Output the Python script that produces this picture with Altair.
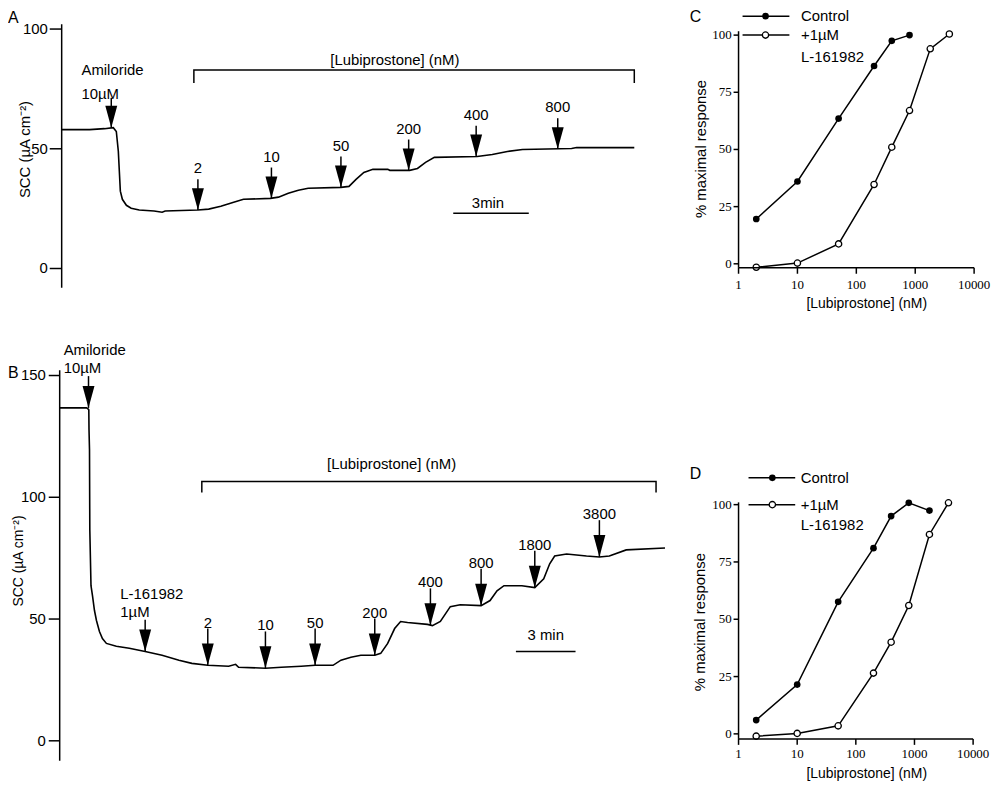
import altair as alt
import pandas as pd

# ---------------- data ----------------
# Panel A: SCC trace (time in min, SCC in uA/cm2)
a_t = [0, 1.11, 1.70, 2.05, 2.17, 2.25, 2.29, 2.33, 2.41, 2.57, 2.76, 3.08, 3.67, 3.99, 4.11,
       5.41, 5.84, 6.32, 6.83, 7.22, 8.29, 8.61, 9.0, 9.4, 9.79, 11.09, 11.41, 11.69, 12.0,
       12.36, 12.95, 13.03, 13.82, 14.13, 14.45, 14.8, 16.5, 17.1, 17.7, 18.3, 20.25, 20.45, 22.74]
a_v = [58.0, 58.0, 58.4, 58.8, 57.2, 48.9, 40.6, 32.3, 28.9, 26.4, 25.2, 24.4, 24.0, 23.5, 24.0,
       24.4, 24.8, 26.0, 27.7, 28.9, 29.3, 29.8, 31.4, 32.7, 33.5, 33.9, 34.3, 37.2, 40.1,
       41.4, 41.4, 41.0, 41.0, 41.8, 44.3, 46.4, 46.8, 47.6, 48.9, 49.7, 50.1, 50.5, 50.5]
a_ticks = [0, 50, 100]
a_dose = ["2", "10", "50", "200", "400", "800"]
a_dose_t = [5.41, 8.33, 11.09, 13.78, 16.46, 19.70]
a_dose_v = [24.4, 29.3, 33.9, 41.0, 46.8, 49.9]
a_drug = [("Amiloride", "10µM", 1.97, 58.8)]
a_bracket = (5.25, 22.74, 82.9, 77.5, 13.23, 87.1)   # start, end, level, tick end, label t, label v
a_bar = (15.55, 18.55, 23.1, 16.93, 27.3, "3min")

# Panel B
b_t = [0, 1.35, 1.425, 1.465, 1.475, 1.5, 1.515, 1.575, 1.65, 1.75, 1.85, 2.0, 2.15, 2.35, 2.85,
       3.5, 4.3, 5.15, 6.0, 6.65, 7.45, 8.5, 8.85, 9.0, 10.35, 11.15, 12.15, 12.85, 13.75, 14.15,
       14.65, 15.15, 15.85, 16.15, 16.5, 16.85, 17.15, 17.5, 18.5, 18.75, 19.15, 19.65, 20.15,
       21.2, 21.65, 22.0, 22.35, 23.25, 23.9, 24.35, 24.65, 24.9, 25.5, 26.5, 27.15, 27.65, 28.5, 30.45]
b_v = [136.7, 136.7, 136.3, 135.9, 127.8, 119.6, 86.9, 63.7, 59.6, 53.5, 49.4, 44.9, 42.0, 40.0,
       38.8, 38.0, 36.7, 35.1, 33.1, 31.8, 31.0, 30.6, 31.4, 30.2, 29.8, 30.2, 30.6, 31.0, 31.0,
       33.1, 34.3, 35.1, 35.1, 35.9, 40.0, 46.1, 49.0, 48.6, 47.8, 47.3, 49.0, 55.1, 55.9, 55.5,
       57.6, 61.6, 63.7, 63.7, 62.9, 66.5, 72.7, 75.9, 76.7, 75.9, 75.5, 75.9, 78.4, 79.2]
b_ticks = [0, 50, 100, 150]
b_dose = ["2", "10", "50", "200", "400", "800", "1800", "3800"]
b_dose_t = [7.45, 10.35, 12.85, 15.85, 18.65, 21.2, 23.9, 27.15]
b_dose_v = [31.0, 29.8, 31.0, 35.1, 47.5, 55.5, 62.9, 75.5]
b_drug = [("Amiloride", "10µM", 1.45, 136.7), ("L-161982", "1µM", 4.3, 36.7)]
b_bracket = (7.15, 30.0, 106.5, 102.0, 16.7, 113.5)
b_bar = (22.95, 25.95, 36.7, 24.45, 43.3, "3 min")

# Panel C: concentration-response
c_ctrl_x = [2, 10, 50, 200, 400, 800]
c_ctrl_y = [19.6, 36.0, 63.5, 86.5, 97.5, 100.0]
c_inh_x = [2, 10, 50, 200, 400, 800, 1800, 3800]
c_inh_y = [-1.5, 0.3, 8.7, 34.7, 51.0, 67.0, 94.0, 100.5]

# Panel D
d_ctrl_x = [2, 10, 50, 200, 400, 800, 1800]
d_ctrl_y = [6.0, 21.5, 57.6, 81.0, 95.0, 100.8, 97.4]
d_inh_x = [2, 10, 50, 200, 400, 800, 1800, 3800]
d_inh_y = [-1.0, 0.2, 3.5, 26.5, 40.0, 56.0, 87.0, 100.8]

cr_xticks = [1, 10, 100, 1000, 10000]
cr_yticks = [0, 25, 50, 75, 100]
series_names = ["Control", "+1µM", "L-161982"]

# ---------------- styling ----------------
SANS = "Liberation Sans"
SERIF = "Liberation Serif"
W, H = 990, 776
HEAD = "M-0.6,-2.2L0.6,-2.2L0,0Z"
LW = 1.5


def label_text(s, x, y, size=15, font=SANS, angle=0, align="center"):
    return alt.Chart(pd.DataFrame({"s": [s]})).mark_text(
        font=font, fontSize=size, color="black", angle=angle, align=align,
        baseline="middle").encode(x=alt.value(x), y=alt.value(y), text="s:N")


def v_axis(X, Y, x0, lo, hi, ticks, tsize, pad, font, fsize):
    dom = pd.DataFrame({"x": [x0], "lo": [lo], "hi": [hi]})
    d = alt.Chart(dom).mark_rule(color="black", strokeWidth=LW).encode(
        x=X("x"), y=Y("lo"), y2="hi:Q")
    tk = pd.DataFrame({"x": [x0] * len(ticks), "y": ticks, "lab": [str(t) for t in ticks]})
    t = alt.Chart(tk).mark_rule(color="black", strokeWidth=LW, x2Offset=-tsize).encode(
        x=X("x"), x2="x:Q", y=Y("y"))
    lb = alt.Chart(tk).mark_text(align="right", baseline="middle", dx=-(tsize + pad),
                                 font=font, fontSize=fsize, color="black").encode(
        x=X("x"), y=Y("y"), text="lab:N")
    return [d, t, lb]


def h_axis(X, Y, y0, lo, hi, ticks, tsize, pad, font, fsize):
    dom = pd.DataFrame({"y": [y0], "lo": [lo], "hi": [hi]})
    d = alt.Chart(dom).mark_rule(color="black", strokeWidth=LW).encode(
        x=X("lo"), x2="hi:Q", y=Y("y"))
    tk = pd.DataFrame({"y": [y0] * len(ticks), "x": ticks, "lab": [str(t) for t in ticks]})
    t = alt.Chart(tk).mark_rule(color="black", strokeWidth=LW, y2Offset=tsize).encode(
        x=X("x"), y=Y("y"), y2="y:Q")
    lb = alt.Chart(tk).mark_text(align="center", baseline="middle",
                                 dy=tsize + pad + fsize / 2, font=font, fontSize=fsize,
                                 color="black").encode(x=X("x"), y=Y("y"), text="lab:N")
    return [d, t, lb]


def trace_panel(t, v, xs, ys, ydom, ticks, tsize, tpad, dose, dose_t, dose_v, drugs, bracket,
                bar, shaft, lab_dy, dx2, dy_a, dy_b, shaft2, letter, letter_xy, title_xy, tfs):
    X = lambda f="t": alt.X(f"{f}:Q", scale=xs, axis=None)
    Y = lambda f="v": alt.Y(f"{f}:Q", scale=ys, axis=None)
    tr = pd.DataFrame({"t": t, "v": v})
    line = alt.Chart(tr).mark_line(color="black", strokeWidth=1.6).encode(x=X(), y=Y())
    ar = pd.DataFrame({"t": dose_t, "v": dose_v, "lab": dose})
    shafts = alt.Chart(ar).mark_rule(color="black", strokeWidth=LW, y2Offset=-shaft).encode(
        x=X(), y=Y(), y2="v:Q")
    heads = alt.Chart(ar).mark_point(shape=HEAD, size=400, filled=True, color="black",
                                     opacity=1, strokeWidth=0).encode(x=X(), y=Y())
    labs = alt.Chart(ar).mark_text(dy=-lab_dy, font=SANS, fontSize=15, color="black").encode(
        x=X(), y=Y(), text="lab:N")
    dr = pd.DataFrame({"l1": [d[0] for d in drugs], "l2": [d[1] for d in drugs],
                       "t": [d[2] for d in drugs], "v": [d[3] for d in drugs]})
    d_sh = alt.Chart(dr).mark_rule(color="black", strokeWidth=LW, y2Offset=-shaft2).encode(
        x=X(), y=Y(), y2="v:Q")
    d_hd = alt.Chart(dr).mark_point(shape=HEAD, size=400, filled=True, color="black",
                                    opacity=1, strokeWidth=0).encode(x=X(), y=Y())
    d_l1 = alt.Chart(dr).mark_text(align="left", dx=-dx2, dy=-dy_a, font=SANS, fontSize=15,
                                   color="black").encode(x=X(), y=Y(), text="l1:N")
    d_l2 = alt.Chart(dr).mark_text(align="left", dx=-dx2, dy=-dy_b, font=SANS, fontSize=15,
                                   color="black").encode(x=X(), y=Y(), text="l2:N")
    s, e, lvl, lo, lt, lv = bracket
    br = pd.DataFrame({"t": [s, s, e, e], "v": [lo, lvl, lvl, lo], "o": [0, 1, 2, 3]})
    brl = alt.Chart(br).mark_line(color="black", strokeWidth=LW).encode(
        x=X(), y=Y(), order="o:Q")
    brt = alt.Chart(pd.DataFrame({"t": [lt], "v": [lv], "s": ["[Lubiprostone] (nM)"]})).mark_text(
        font=SANS, fontSize=15, color="black").encode(x=X(), y=Y(), text="s:N")
    b1, b2, bv, blt, blv, bs = bar
    bar_r = alt.Chart(pd.DataFrame({"t": [b1], "t2": [b2], "v": [bv]})).mark_rule(
        color="black", strokeWidth=LW).encode(x=X(), x2="t2:Q", y=Y())
    bar_t = alt.Chart(pd.DataFrame({"t": [blt], "v": [blv], "s": [bs]})).mark_text(
        font=SANS, fontSize=15, color="black").encode(x=X(), y=Y(), text="s:N")
    axis = v_axis(X, Y, 0, ydom[0], ydom[1], ticks, tsize, tpad, SANS, 15)
    ttl = label_text("SCC (µA cm⁻²)", title_xy[0], title_xy[1], size=tfs, angle=270)
    let = label_text(letter, letter_xy[0], letter_xy[1], size=16, align="left")
    return alt.layer(line, shafts, heads, labs, d_sh, d_hd, d_l1, d_l2, brl, brt, bar_r, bar_t,
                     *axis, ttl, let).resolve_scale(x="shared", y="shared")


def dose_panel(cx, cy, ix, iy, xs, ys, ydom, xpad, leg, letter, letter_xy, ytitle_xy, xtitle_xy):
    X = lambda f="c": alt.X(f"{f}:Q", scale=xs, axis=None)
    Y = lambda f="r": alt.Y(f"{f}:Q", scale=ys, axis=None)
    ctrl = pd.DataFrame({"c": cx, "r": cy})
    inh = pd.DataFrame({"c": ix, "r": iy})
    l_c = alt.Chart(ctrl).mark_line(color="black", strokeWidth=LW).encode(x=X(), y=Y())
    l_i = alt.Chart(inh).mark_line(color="black", strokeWidth=LW).encode(x=X(), y=Y())
    p_c = alt.Chart(ctrl).mark_point(filled=True, size=45, color="black", opacity=1).encode(
        x=X(), y=Y())
    p_i = alt.Chart(inh).mark_point(filled=True, fill="white", stroke="black", strokeWidth=1.3,
                                    size=40, opacity=1).encode(x=X(), y=Y())
    x1, x2, xd, xt, y1, y2, y3 = leg
    lg = pd.DataFrame({"c": [x1, x1], "c2": [x2, x2], "d": [xd, xd], "r": [y1, y2]})
    lg_r = alt.Chart(lg).mark_rule(color="black", strokeWidth=LW).encode(
        x=X(), x2="c2:Q", y=Y())
    lg_pc = alt.Chart(lg.iloc[[0]]).mark_point(filled=True, size=45, color="black",
                                               opacity=1).encode(x=X("d"), y=Y())
    lg_pi = alt.Chart(lg.iloc[[1]]).mark_point(filled=True, fill="white", stroke="black",
                                               strokeWidth=1.3, size=40, opacity=1).encode(
        x=X("d"), y=Y())
    lt = pd.DataFrame({"c": [xt] * 3, "r": [y1, y2, y3], "s": series_names})
    lg_t = alt.Chart(lt).mark_text(align="left", font=SANS, fontSize=15, color="black").encode(
        x=X(), y=Y(), text="s:N")
    yax = v_axis(X, Y, 1, ydom[0], ydom[1], cr_yticks, 5, 2, SERIF, 13)
    xax = h_axis(X, Y, ydom[0], 1, 10000, cr_xticks, 6, xpad, SERIF, 13)
    yt = label_text("% maximal response", ytitle_xy[0], ytitle_xy[1], size=15, angle=270)
    xt_ = label_text("[Lubiprostone]  (nM)", xtitle_xy[0], xtitle_xy[1], size=14)
    let = label_text(letter, letter_xy[0], letter_xy[1], size=16, align="left")
    return alt.layer(l_c, l_i, p_c, p_i, lg_r, lg_pc, lg_pi, lg_t, *yax, *xax, yt, xt_,
                     let).resolve_scale(x="shared", y="shared")


pA = trace_panel(
    a_t, a_v,
    alt.Scale(domain=[0, 23], range=[54, 636.7], zero=False, nice=False),
    alt.Scale(domain=[-8, 102], range=[279, 14], zero=False, nice=False),
    (-8, 102), a_ticks, 12, 2,
    a_dose, a_dose_t, a_dose_v, a_drug, a_bracket, a_bar,
    31, 42, 30, 58, 34, 30, "A", (0, 8), (17, 140), 15)

pB = trace_panel(
    b_t, b_v,
    alt.Scale(domain=[0, 30.5], range=[52, 662], zero=False, nice=False),
    alt.Scale(domain=[-8.2, 152.2], range=[755, 362], zero=False, nice=False),
    (-8.2, 152.2), b_ticks, 11, 3,
    b_dose, b_dose_t, b_dose_v, b_drug, b_bracket, b_bar,
    37, 43, 25, 58, 40, 32, "B", (0, 365), (11, 554), 14)

pC = dose_panel(
    c_ctrl_x, c_ctrl_y, c_inh_x, c_inh_y,
    alt.Scale(type="log", domain=[1, 10000], range=[735, 972], nice=False),
    alt.Scale(domain=[-1.74, 101.7], range=[259, 21], zero=False, nice=False),
    (-1.74, 101.7), 5,
    (1.17, 7.3, 2.87, 11.5, 108.3, 100, 90.4), "C", (686, 7), (697, 139.5), (864, 295))

pD = dose_panel(
    d_ctrl_x, d_ctrl_y, d_inh_x, d_inh_y,
    alt.Scale(type="log", domain=[1, 10000], range=[735, 971], nice=False),
    alt.Scale(domain=[-2.2, 101.0], range=[733, 495], zero=False, nice=False),
    (-2.2, 101.0), 3,
    (1.48, 9.25, 3.77, 11.5, 111.7, 100, 90.9), "D", (686, 467), (696, 615.5), (864, 768))

chart = alt.layer(pA, pB, pC, pD).resolve_scale(
    x="independent", y="independent"
).properties(
    width=W, height=H, padding=0, autosize=alt.AutoSizeParams(type="none")
).configure(font=SANS).configure_view(stroke="transparent", strokeWidth=0)

chart.save("out.html", embed_options={"renderer": "svg", "actions": False})
